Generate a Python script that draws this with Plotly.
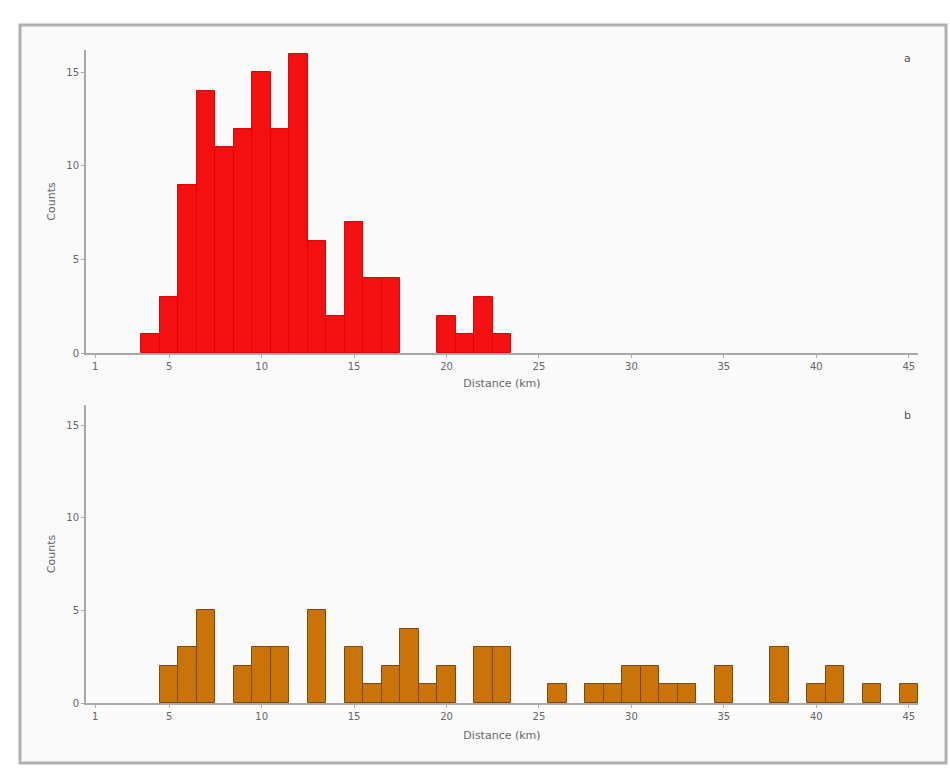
import plotly.graph_objects as go

# ---- data ----
bins_a = [4, 5, 6, 7, 8, 9, 10, 11, 12, 13, 14, 15, 16, 17, 20, 21, 22, 23]
counts_a = [1, 3, 9, 14, 11, 12, 15, 12, 16, 6, 2, 7, 4, 4, 2, 1, 3, 1]

bins_b = [5, 6, 7, 9, 10, 11, 13, 15, 16, 17, 18, 19, 20, 22, 23, 26, 28, 29,
          30, 31, 32, 33, 35, 38, 40, 41, 43, 45]
counts_b = [2, 3, 5, 2, 3, 3, 5, 3, 1, 2, 4, 1, 2, 3, 3, 1, 1, 1,
            2, 2, 1, 1, 2, 3, 1, 2, 1, 1]

x_tickvals = [1, 5, 10, 15, 20, 25, 30, 35, 40, 45]
y_tickvals = [0, 5, 10, 15]
x_title = "Distance (km)"
y_title = "Counts"
panel_labels = ["a", "b"]

W, H = 950, 769
px = lambda v: v / W
py = lambda v: 1 - v / H

fig = go.Figure()
fig.add_trace(go.Bar(x=bins_a, y=counts_a, width=1, xaxis="x", yaxis="y",
                     marker=dict(color="#f41010", line=dict(color="#d80808", width=1)),
                     showlegend=False))
fig.add_trace(go.Bar(x=bins_b, y=counts_b, width=1, xaxis="x2", yaxis="y2",
                     marker=dict(color="#c97308", line=dict(color="#7a4a10", width=1)),
                     showlegend=False))

axis_common = dict(showline=True, linecolor="#a8a8a8", linewidth=2, showgrid=False,
                   zeroline=False, ticks="outside", ticklen=3, tickcolor="#a8a8a8",
                   tickfont=dict(family="DejaVu Sans", size=10, color="#666666"),
                   automargin=False, mirror=False)

xd = [px(86), px(918)]
title_font = dict(family="DejaVu Sans", size=11, color="#666")
fig.update_layout(
    width=W, height=H,
    margin=dict(l=0, r=0, t=0, b=0),
    paper_bgcolor="white", plot_bgcolor="#fafafa",
    bargap=0,
    xaxis=dict(domain=xd, range=[0.5, 45.5], tickvals=x_tickvals, anchor="y",
               title=dict(text=x_title, font=title_font, standoff=8),
               **axis_common),
    yaxis=dict(domain=[py(353), py(50)], range=[0, 16.2], tickvals=y_tickvals, anchor="x",
               title=dict(text=y_title, font=title_font, standoff=8),
               **axis_common),
    xaxis2=dict(domain=xd, range=[0.5, 45.5], tickvals=x_tickvals, anchor="y2",
                title=dict(text=x_title, font=title_font, standoff=10),
                **axis_common),
    yaxis2=dict(domain=[py(703), py(405)], range=[0, 16.1], tickvals=y_tickvals, anchor="x2",
                title=dict(text=y_title, font=title_font, standoff=8),
                **axis_common),
)

# panel background / frame
fig.add_shape(type="rect", xref="paper", yref="paper", x0=px(20), x1=px(946), y0=py(763), y1=py(25),
              line=dict(color="#b0b0b0", width=3), fillcolor="#fafafa", layer="below")

for lbl, ypos in zip(panel_labels, [58, 415]):
    fig.add_annotation(text=lbl, xref="paper", yref="paper", x=px(907), y=py(ypos),
                       xanchor="center", yanchor="middle",
                       showarrow=False, font=dict(family="DejaVu Sans", size=11, color="#555"))

fig.write_html("out.html")
